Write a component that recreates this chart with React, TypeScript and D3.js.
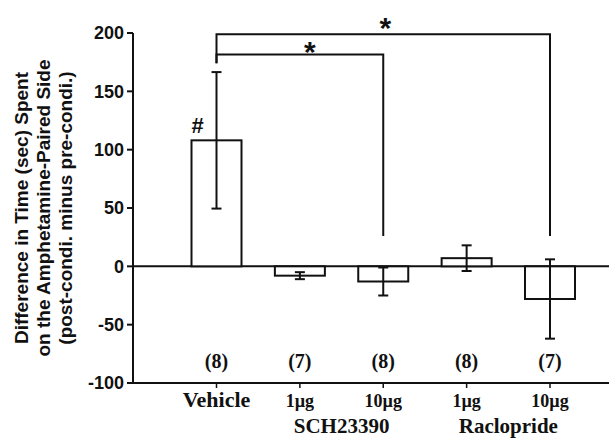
import React, { useEffect, useRef } from "react";
import * as d3 from "d3";

const groups = ["Vehicle", "SCH 1", "SCH 10", "Rac 1", "Rac 10"];
const tickLabels = ["Vehicle", "1µg", "10µg", "1µg", "10µg"];
const means = [108, -8, -13, 7, -28];
const sems = [58.5, 3, 12, 11, 34];
const nLabels = ["(8)", "(7)", "(8)", "(8)", "(7)"];
const drugLabels = [
  { name: "SCH23390", from: "SCH 1", to: "SCH 10" },
  { name: "Raclopride", from: "Rac 1", to: "Rac 10" },
];
// significance brackets
const brackets = [
  { from: "Vehicle", to: "Rac 10", top: 199, end: 26, dx: 2, dy: 4 },
  { from: "Vehicle", to: "SCH 10", top: 181.5, end: 26, dx: 10, dy: 7 },
];
const yTicks = [-100, -50, 0, 50, 100, 150, 200];
const titleLines = [
  "Difference in Time (sec) Spent",
  "on the Amphetamine-Paired Side",
  "(post-condi. minus pre-condi.)",
];

const W = 609;
const H = 439;

const App = () => {
  const svgRef = useRef(null);

  useEffect(() => {
    const svg = d3.select(svgRef.current);
    svg.selectAll("*").remove();

    const sans = "'Liberation Sans', Arial, sans-serif";
    const serif = "'Liberation Serif', 'Times New Roman', serif";

    const y = d3.scaleLinear().domain([-100, 200]).range([383, 33]);
    const x = d3.scalePoint().domain(groups).range([216.5, 550]);
    const axisX = 133;
    const barW = 50;
    const cap = 5;

    // y axis
    svg.append("line")
      .attr("x1", axisX).attr("x2", axisX)
      .attr("y1", y(200)).attr("y2", y(-100))
      .attr("stroke", "#111").attr("stroke-width", 2);

    const yt = svg.append("g").selectAll("g").data(yTicks).join("g");
    yt.append("line")
      .attr("x1", axisX - 6).attr("x2", axisX)
      .attr("y1", d => y(d)).attr("y2", d => y(d))
      .attr("stroke", "#111").attr("stroke-width", 2);
    yt.append("text")
      .attr("x", axisX - 9)
      .attr("y", d => y(d))
      .attr("dy", "0.36em")
      .attr("text-anchor", "end")
      .attr("font-family", sans)
      .attr("font-weight", "bold")
      .attr("font-size", 18)
      .attr("fill", "#111")
      .text(d => d);

    // bottom axis and zero line
    svg.append("line")
      .attr("x1", axisX).attr("x2", W)
      .attr("y1", y(-100)).attr("y2", y(-100))
      .attr("stroke", "#111").attr("stroke-width", 2);
    svg.append("line")
      .attr("x1", axisX).attr("x2", W)
      .attr("y1", y(0)).attr("y2", y(0))
      .attr("stroke", "#111").attr("stroke-width", 2);

    svg.append("g").selectAll("line").data(groups).join("line")
      .attr("x1", d => x(d)).attr("x2", d => x(d))
      .attr("y1", y(-100)).attr("y2", y(-100) + 5)
      .attr("stroke", "#111").attr("stroke-width", 1.5);

    // bars
    svg.append("g").selectAll("rect").data(groups).join("rect")
      .attr("x", d => x(d) - barW / 2)
      .attr("width", barW)
      .attr("y", (d, i) => y(Math.max(0, means[i])))
      .attr("height", (d, i) => Math.abs(y(means[i]) - y(0)))
      .attr("fill", "white")
      .attr("stroke", "#111")
      .attr("stroke-width", 2);

    // error bars
    const eb = svg.append("g").selectAll("g").data(groups).join("g");
    eb.append("line")
      .attr("x1", d => x(d)).attr("x2", d => x(d))
      .attr("y1", (d, i) => y(means[i] + sems[i]))
      .attr("y2", (d, i) => y(means[i] - sems[i]))
      .attr("stroke", "#111").attr("stroke-width", 2);
    [1, -1].forEach(s => {
      eb.append("line")
        .attr("x1", d => x(d) - cap).attr("x2", d => x(d) + cap)
        .attr("y1", (d, i) => y(means[i] + s * sems[i]))
        .attr("y2", (d, i) => y(means[i] + s * sems[i]))
        .attr("stroke", "#111").attr("stroke-width", 2);
    });

    // n labels
    svg.append("g").selectAll("text").data(groups).join("text")
      .attr("x", d => x(d))
      .attr("y", y(-87))
      .attr("text-anchor", "middle")
      .attr("font-family", serif)
      .attr("font-weight", "bold")
      .attr("font-size", 20)
      .attr("fill", "#111")
      .text((d, i) => nLabels[i]);

    // x tick labels
    svg.append("g").selectAll("text").data(groups).join("text")
      .attr("x", d => x(d))
      .attr("y", 407)
      .attr("text-anchor", "middle")
      .attr("font-family", serif)
      .attr("font-weight", "bold")
      .attr("font-size", (d, i) => (i === 0 ? 22 : 18))
      .attr("fill", "#111")
      .text((d, i) => tickLabels[i]);

    svg.append("g").selectAll("text").data(drugLabels).join("text")
      .attr("x", d => (x(d.from) + x(d.to)) / 2)
      .attr("y", 433)
      .attr("text-anchor", "middle")
      .attr("font-family", serif)
      .attr("font-weight", "bold")
      .attr("font-size", 21)
      .attr("fill", "#111")
      .text(d => d.name);

    // significance brackets
    const br = svg.append("g").selectAll("g").data(brackets).join("g");
    br.append("path")
      .attr("d", d => {
        const x0 = x(d.from);
        const x1 = x(d.to);
        const p = d3.path();
        p.moveTo(x0, y(174));
        p.lineTo(x0, y(d.top));
        p.lineTo(x1, y(d.top));
        p.lineTo(x1, y(d.end));
        return p.toString();
      })
      .attr("fill", "none")
      .attr("stroke", "#111")
      .attr("stroke-width", 2);
    br.append("text")
      .attr("x", d => (x(d.from) + x(d.to)) / 2 + d.dx)
      .attr("y", d => y(d.top) + d.dy)
      .attr("text-anchor", "middle")
      .attr("font-family", sans)
      .attr("font-weight", "bold")
      .attr("font-size", 30)
      .attr("fill", "#111")
      .text("*");

    // hash over vehicle
    svg.append("text")
      .attr("x", x("Vehicle") - 19)
      .attr("y", y(means[0]) - 7)
      .attr("text-anchor", "middle")
      .attr("font-family", sans)
      .attr("font-weight", "bold")
      .attr("font-size", 22)
      .attr("fill", "#111")
      .text("#");

    // y title
    svg.append("g")
      .attr("transform", "translate(28,208) rotate(-90)")
      .selectAll("text").data(titleLines).join("text")
      .attr("x", 0)
      .attr("y", (d, i) => i * 22)
      .attr("text-anchor", "middle")
      .attr("font-family", sans)
      .attr("font-weight", "bold")
      .attr("font-size", 19)
      .attr("fill", "#111")
      .text(d => d);
  }, []);

  return (
    <svg
      ref={svgRef}
      width={W}
      height={H}
      style={{ position: "absolute", left: 0, top: 0, background: "white" }}
    ></svg>
  );
};

export default App;
